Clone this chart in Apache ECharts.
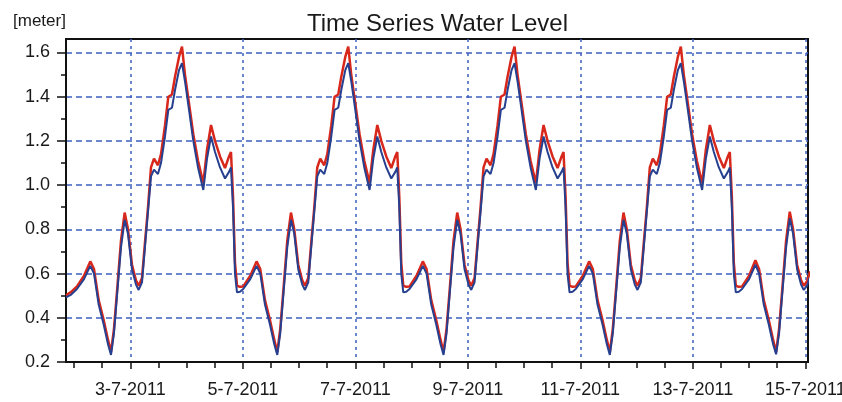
<!DOCTYPE html>
<html>
<head>
<meta charset="utf-8">
<script src="https://cdn.jsdelivr.net/npm/echarts@6/dist/echarts.min.js"></script>
<style>
html,body{margin:0;padding:0;background:#fff;}
#chart{width:842px;height:402px;}
</style>
</head>
<body>
<div id="chart"></div>
<script>
// Time stamps as day of July 2011 (fractional days)
const dayStamps = [
 1.857, 1.950, 2.052, 2.177, 2.289, 2.355, 2.438, 2.527, 2.604, 2.657, 2.710, 2.764, 2.835, 2.900, 2.959, 3.030, 3.101, 3.149, 3.208, 3.261, 3.315, 3.368, 3.421, 3.492, 3.546, 3.617, 3.676, 3.741, 3.795, 3.866, 3.919, 3.972, 4.044, 4.120, 4.204, 4.298, 4.364, 4.435, 4.506, 4.595, 4.684, 4.755, 4.790, 4.826, 4.861, 4.897, 4.950,
 5.008, 5.133, 5.245, 5.311, 5.394, 5.483, 5.560, 5.613, 5.666, 5.720, 5.791, 5.856, 5.915, 5.986, 6.057, 6.105, 6.164, 6.217, 6.271, 6.324, 6.377, 6.448, 6.502, 6.573, 6.632, 6.697, 6.751, 6.822, 6.875, 6.928, 7.000, 7.076, 7.160, 7.254, 7.320, 7.391, 7.462, 7.551, 7.640, 7.711, 7.746, 7.782, 7.817, 7.853, 7.906,
 7.964, 8.089, 8.201, 8.267, 8.350, 8.439, 8.516, 8.569, 8.622, 8.676, 8.747, 8.812, 8.871, 8.942, 9.013, 9.061, 9.120, 9.173, 9.227, 9.280, 9.333, 9.404, 9.458, 9.529, 9.588, 9.653, 9.707, 9.778, 9.831, 9.884, 9.956, 10.032, 10.116, 10.210, 10.276, 10.347, 10.418, 10.507, 10.596, 10.667, 10.702, 10.738, 10.773, 10.809, 10.862,
 10.920, 11.045, 11.157, 11.223, 11.306, 11.395, 11.472, 11.525, 11.578, 11.632, 11.703, 11.768, 11.827, 11.898, 11.969, 12.017, 12.076, 12.129, 12.183, 12.236, 12.289, 12.360, 12.414, 12.485, 12.544, 12.609, 12.663, 12.734, 12.787, 12.840, 12.912, 12.988, 13.072, 13.166, 13.232, 13.303, 13.374, 13.463, 13.552, 13.623, 13.658, 13.694, 13.729, 13.765, 13.818,
 13.876, 14.001, 14.113, 14.179, 14.262, 14.351, 14.428, 14.481, 14.534, 14.588, 14.659, 14.724, 14.783, 14.854, 14.925, 14.973, 15.032, 15.085
];

// Red (upper) water level [meter]
const levelRed = [
 0.502, 0.517, 0.542, 0.590, 0.655, 0.620, 0.480, 0.390, 0.300, 0.245, 0.350, 0.520, 0.750, 0.876, 0.800, 0.640, 0.570, 0.545, 0.580, 0.740, 0.900, 1.080, 1.120, 1.090, 1.140, 1.270, 1.400, 1.410, 1.490, 1.580, 1.627, 1.500, 1.370, 1.230, 1.110, 1.009, 1.160, 1.272, 1.200, 1.130, 1.077, 1.130, 1.150, 0.950, 0.650, 0.545, 0.540,
 0.542, 0.590, 0.655, 0.620, 0.480, 0.390, 0.300, 0.245, 0.350, 0.520, 0.750, 0.876, 0.800, 0.640, 0.570, 0.545, 0.580, 0.740, 0.900, 1.080, 1.120, 1.090, 1.140, 1.270, 1.400, 1.410, 1.490, 1.580, 1.627, 1.500, 1.370, 1.230, 1.110, 1.009, 1.160, 1.272, 1.200, 1.130, 1.077, 1.130, 1.150, 0.950, 0.650, 0.545, 0.540,
 0.542, 0.590, 0.655, 0.620, 0.480, 0.390, 0.300, 0.245, 0.350, 0.520, 0.750, 0.876, 0.800, 0.640, 0.570, 0.545, 0.580, 0.740, 0.900, 1.080, 1.120, 1.090, 1.140, 1.270, 1.400, 1.410, 1.490, 1.580, 1.627, 1.500, 1.370, 1.230, 1.110, 1.009, 1.160, 1.272, 1.200, 1.130, 1.077, 1.130, 1.150, 0.950, 0.650, 0.545, 0.540,
 0.542, 0.590, 0.655, 0.620, 0.480, 0.390, 0.300, 0.245, 0.350, 0.520, 0.750, 0.876, 0.800, 0.640, 0.570, 0.545, 0.580, 0.740, 0.900, 1.080, 1.120, 1.090, 1.140, 1.270, 1.400, 1.410, 1.490, 1.580, 1.627, 1.500, 1.370, 1.230, 1.110, 1.009, 1.160, 1.272, 1.200, 1.130, 1.077, 1.130, 1.150, 0.950, 0.650, 0.545, 0.540,
 0.542, 0.590, 0.660, 0.620, 0.480, 0.390, 0.300, 0.245, 0.350, 0.520, 0.750, 0.880, 0.800, 0.640, 0.570, 0.545, 0.565, 0.610
];

// Blue (lower) water level [meter]
const levelBlue = [
 0.492, 0.505, 0.530, 0.575, 0.635, 0.600, 0.460, 0.370, 0.280, 0.232, 0.330, 0.500, 0.720, 0.843, 0.780, 0.620, 0.550, 0.526, 0.560, 0.720, 0.880, 1.040, 1.070, 1.050, 1.100, 1.220, 1.340, 1.350, 1.430, 1.520, 1.552, 1.470, 1.340, 1.200, 1.080, 0.978, 1.120, 1.220, 1.150, 1.080, 1.030, 1.060, 1.080, 0.900, 0.600, 0.515, 0.518,
 0.530, 0.575, 0.635, 0.600, 0.460, 0.370, 0.280, 0.232, 0.330, 0.500, 0.720, 0.843, 0.780, 0.620, 0.550, 0.526, 0.560, 0.720, 0.880, 1.040, 1.070, 1.050, 1.100, 1.220, 1.340, 1.350, 1.430, 1.520, 1.552, 1.470, 1.340, 1.200, 1.080, 0.978, 1.120, 1.220, 1.150, 1.080, 1.030, 1.060, 1.080, 0.900, 0.600, 0.515, 0.518,
 0.530, 0.575, 0.635, 0.600, 0.460, 0.370, 0.280, 0.232, 0.330, 0.500, 0.720, 0.843, 0.780, 0.620, 0.550, 0.526, 0.560, 0.720, 0.880, 1.040, 1.070, 1.050, 1.100, 1.220, 1.340, 1.350, 1.430, 1.520, 1.552, 1.470, 1.340, 1.200, 1.080, 0.978, 1.120, 1.220, 1.150, 1.080, 1.030, 1.060, 1.080, 0.900, 0.600, 0.515, 0.518,
 0.530, 0.575, 0.635, 0.600, 0.460, 0.370, 0.280, 0.232, 0.330, 0.500, 0.720, 0.843, 0.780, 0.620, 0.550, 0.526, 0.560, 0.720, 0.880, 1.040, 1.070, 1.050, 1.100, 1.220, 1.340, 1.350, 1.430, 1.520, 1.552, 1.470, 1.340, 1.200, 1.080, 0.978, 1.120, 1.220, 1.150, 1.080, 1.030, 1.060, 1.080, 0.900, 0.600, 0.515, 0.518,
 0.530, 0.575, 0.640, 0.600, 0.460, 0.370, 0.280, 0.235, 0.330, 0.500, 0.720, 0.850, 0.780, 0.620, 0.550, 0.526, 0.545, 0.590
];

// Tick values
const xMajorTicks = [3, 5, 7, 9, 11, 13, 15];
const xMinorTicks = [2, 2.5, 3, 3.5, 4, 4.5, 5, 5.5, 6, 6.5, 7, 7.5, 8, 8.5, 9, 9.5, 10, 10.5, 11, 11.5, 12, 12.5, 13, 13.5, 14, 14.5, 15];
const yMajorTicks = [0.2, 0.4, 0.6, 0.8, 1.0, 1.2, 1.4, 1.6];
const yMinorTicks = [0.3, 0.5, 0.7, 0.9, 1.1, 1.3, 1.5];

const X_MIN = 1.857, X_MAX = 15.048, Y_MIN = 0.2, Y_MAX = 1.661;
const FONT = '"Liberation Sans", Arial, sans-serif';
const GRID_BLUE = '#3d5fc0';

const pairs = (ys) => dayStamps.map((d, i) => [d, ys[i]]);

const chart = echarts.init(document.getElementById('chart'), null, {renderer: 'canvas'});
chart.setOption({
  animation: false,
  backgroundColor: '#ffffff',
  title: [
    {text: 'Time Series Water Level', left: 302, top: 7,
     textStyle: {fontFamily: FONT, fontSize: 24, fontWeight: 'normal', color: '#1a1a1a'}},
    {text: '[meter]', left: 8, top: 8,
     textStyle: {fontFamily: FONT, fontSize: 17, fontWeight: 'normal', color: '#1a1a1a'}}
  ],
  grid: {left: 66, right: 34, top: 39, bottom: 40, show: true, outerBoundsMode: 'none', containLabel: false,
         borderColor: '#111', borderWidth: 2, backgroundColor: 'transparent'},
  xAxis: [
    {type: 'value', min: X_MIN, max: X_MAX, position: 'bottom',
     axisLine: {show: true, lineStyle: {color: '#111', width: 2}},
     axisTick: {show: true, customValues: xMajorTicks, length: 7, lineStyle: {color: '#111', width: 1.5}},
     axisLabel: {customValues: xMajorTicks, margin: 19, fontFamily: FONT, fontSize: 18, color: '#1a1a1a',
                 formatter: v => Math.round(v) + '-7-2011'},
     splitLine: {show: true, lineStyle: {color: GRID_BLUE, width: 1.5, type: [3, 4]}}},
    {type: 'value', min: X_MIN, max: X_MAX, position: 'bottom',
     axisLine: {show: false},
     axisTick: {show: true, customValues: xMinorTicks, length: 6, lineStyle: {color: '#111', width: 1.5}},
     axisLabel: {show: false},
     splitLine: {show: false}}
  ],
  yAxis: [
    {type: 'value', min: Y_MIN, max: Y_MAX, interval: 0.2, position: 'left',
     axisLine: {show: true, lineStyle: {color: '#111', width: 2}},
     axisTick: {show: true, customValues: yMajorTicks, length: 9, lineStyle: {color: '#111', width: 1.5}},
     axisLabel: {customValues: yMajorTicks, margin: 16, fontFamily: FONT, fontSize: 18, color: '#1a1a1a',
                 formatter: v => v.toFixed(1)},
     splitLine: {show: true, lineStyle: {color: GRID_BLUE, width: 1.5, type: [6, 4]}}},
    {type: 'value', min: Y_MIN, max: Y_MAX, position: 'left',
     axisLine: {show: false},
     axisTick: {show: true, customValues: yMinorTicks, length: 5, lineStyle: {color: '#111', width: 1.5}},
     axisLabel: {show: false},
     splitLine: {show: false}}
  ],
  series: [
    {name: 'Water level (red)', type: 'line', xAxisIndex: 0, yAxisIndex: 0,
     data: pairs(levelRed), showSymbol: false, symbol: 'none', clip: true,
     lineStyle: {color: '#d8281c', width: 2.5}, z: 2},
    {name: 'Water level (blue)', type: 'line', xAxisIndex: 0, yAxisIndex: 0,
     data: pairs(levelBlue), showSymbol: false, symbol: 'none', clip: true,
     lineStyle: {color: '#26408f', width: 2}, z: 3}
  ]
});
</script>
</body>
</html>
